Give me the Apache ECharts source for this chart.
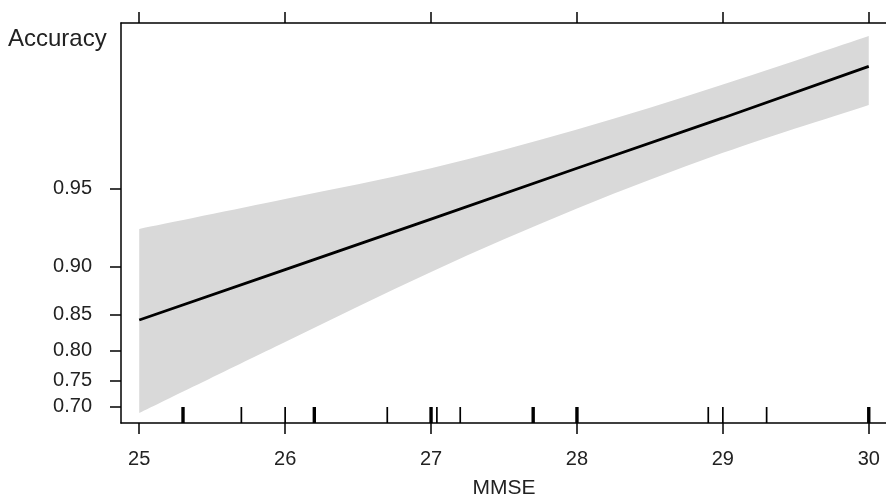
<!DOCTYPE html>
<html>
<head>
<meta charset="utf-8">
<script src="https://cdn.jsdelivr.net/npm/echarts@6/dist/echarts.min.js"></script>
<style>
  html, body { margin: 0; padding: 0; background: #fff; }
  #chart { width: 886px; height: 499px; }
</style>
</head>
<body>
<div id="chart"></div>
<script>
// effect of MMSE on accuracy (probability scale)
var mmse = [25, 26, 27, 28, 29, 30];
var fit = [0.843, 0.897, 0.934, 0.9585, 0.974, 0.984];
var upper = [0.928, 0.945, 0.9585, 0.971, 0.981, 0.988];
var lower = [0.687, 0.813, 0.895, 0.940, 0.964, 0.977];

var xTicks = [25, 26, 27, 28, 29, 30];
var yTicks = [0.70, 0.75, 0.80, 0.85, 0.90, 0.95];
var xRange = [24.875, 30.125];
var yRange = [0.666, 0.9894];

// observed MMSE values (rug)
var rugValues = [25.3, 25.7, 26.0, 26.2, 26.7, 27.0, 27.04, 27.2, 27.7, 28.0, 28.9, 29.0, 29.3, 30.0];
var rugCounts = [2, 1, 1, 2, 1, 2, 1, 1, 2, 2, 1, 1, 1, 2];

function logit(p) { return Math.log(p / (1 - p)); }
function invLogit(v) { return 1 / (1 + Math.exp(-v)); }

// catmull-rom through screen points, as cubic bezier path commands
function curveTo(p) {
  var d = '';
  for (var i = 0; i < p.length - 1; i++) {
    var p0 = p[Math.max(i - 1, 0)], p1 = p[i], p2 = p[i + 1], p3 = p[Math.min(i + 2, p.length - 1)];
    var c1 = [p1[0] + (p2[0] - p0[0]) / 6, p1[1] + (p2[1] - p0[1]) / 6];
    var c2 = [p2[0] - (p3[0] - p1[0]) / 6, p2[1] - (p3[1] - p1[1]) / 6];
    d += ' C' + c1.join(',') + ' ' + c2.join(',') + ' ' + p2.join(',');
  }
  return d;
}

var font = '"Liberation Sans", Arial, sans-serif';
var yMin = logit(yRange[0]);
var yMax = logit(yRange[1]);

var chart = echarts.init(document.getElementById('chart'));
chart.setOption({
  animation: false,
  textStyle: { fontFamily: font },
  title: {
    text: 'Accuracy',
    left: 3,
    top: 22,
    textStyle: { fontSize: 24, fontWeight: 'normal', color: '#222', fontFamily: font }
  },
  grid: { left: 121, right: -1, top: 23, bottom: 76, outerBoundsMode: 'none' },
  xAxis: [{
    type: 'value',
    min: xRange[0],
    max: xRange[1],
    name: 'MMSE',
    nameLocation: 'middle',
    nameGap: 55,
    nameTextStyle: { fontSize: 21, color: '#222' },
    axisLine: { lineStyle: { color: '#000', width: 1.5 } },
    axisTick: { customValues: xTicks, length: 11, lineStyle: { color: '#000', width: 1.5 } },
    axisLabel: { customValues: xTicks, fontSize: 20, color: '#222', margin: 26 },
    splitLine: { show: false }
  }, {
    type: 'value',
    position: 'top',
    min: xRange[0],
    max: xRange[1],
    axisLine: { show: true, lineStyle: { color: '#000', width: 1.5 } },
    axisTick: { show: true, customValues: xTicks, length: 11, lineStyle: { color: '#000', width: 1.5 } },
    axisLabel: { show: false },
    splitLine: { show: false }
  }],
  yAxis: [{
    type: 'value',
    min: yMin,
    max: yMax,
    axisLine: { show: true, lineStyle: { color: '#000', width: 1.5 } },
    axisTick: { show: true, customValues: yTicks.map(logit), length: 11, lineStyle: { color: '#000', width: 1.5 } },
    axisLabel: {
      customValues: yTicks.map(logit),
      fontSize: 20,
      color: '#222',
      margin: 29,
      formatter: function (v) { return invLogit(v).toFixed(2); }
    },
    splitLine: { show: false }
  }],
  series: [{
    // confidence band
    type: 'custom',
    coordinateSystem: 'cartesian2d',
    silent: true,
    data: [[mmse[0], logit(fit[0])]],
    renderItem: function (params, api) {
      var up = mmse.map(function (x, i) { return api.coord([x, logit(upper[i])]); });
      var lo = mmse.map(function (x, i) { return api.coord([x, logit(lower[i])]); }).reverse();
      var d = 'M' + up[0].join(',') + curveTo(up) + ' L' + lo[0].join(',') + curveTo(lo) + ' Z';
      return { type: 'path', shape: { pathData: d }, style: { fill: '#d9d9d9' } };
    }
  }, {
    type: 'line',
    symbol: 'none',
    data: mmse.map(function (x, i) { return [x, logit(fit[i])]; }),
    lineStyle: { color: '#000', width: 2.8 }
  }, {
    // rug of observed values
    type: 'custom',
    coordinateSystem: 'cartesian2d',
    silent: true,
    data: rugValues.map(function (v, i) { return [v, rugCounts[i]]; }),
    renderItem: function (params, api) {
      var p = api.coord([api.value(0), yMin]);
      return {
        type: 'line',
        shape: { x1: p[0], y1: p[1], x2: p[0], y2: p[1] - 16 },
        style: { stroke: '#000', lineWidth: 1.7 * api.value(1) }
      };
    }
  }]
});
</script>
</body>
</html>
